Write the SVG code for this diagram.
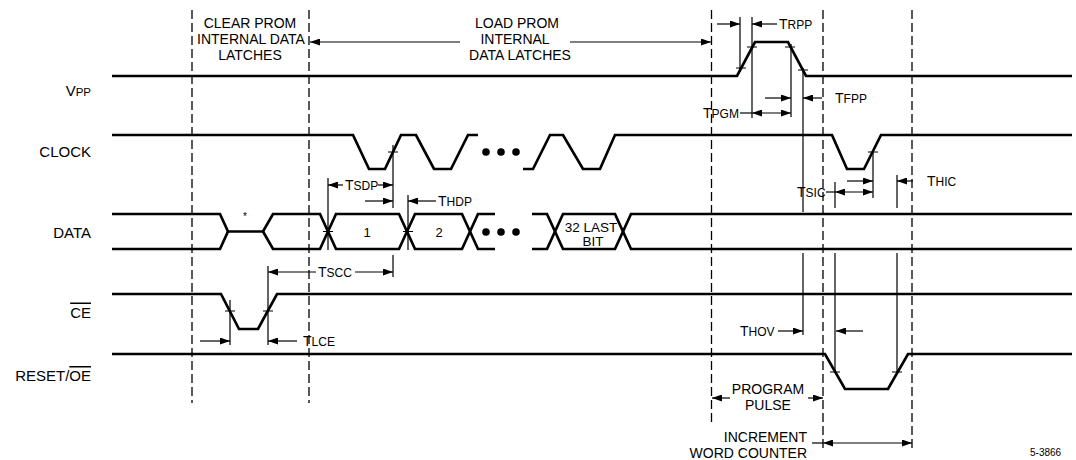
<svg xmlns="http://www.w3.org/2000/svg" width="1076" height="460" viewBox="0 0 1076 460">
<defs>
<marker id="ah" viewBox="0 0 10 7" refX="10" refY="3.5" markerWidth="10" markerHeight="7" orient="auto-start-reverse" markerUnits="userSpaceOnUse"><path d="M0,0 L10,3.5 L0,7 z" fill="#000"/></marker>
</defs>
<style>
text{font-family:"Liberation Sans",Arial,sans-serif;fill:#000}
.sig{fill:none;stroke:#000;stroke-width:2.7}
.dash{fill:none;stroke:#000;stroke-width:1.3;stroke-dasharray:9 4}
.thin{fill:none;stroke:#000;stroke-width:1.2}
.arr{fill:none;stroke:#000;stroke-width:1.2;marker-end:url(#ah)}
.dbl{fill:none;stroke:#000;stroke-width:1.2;marker-end:url(#ah);marker-start:url(#ah)}
.lbl{font-size:15px;text-anchor:end}
.note{font-size:14px;text-anchor:middle}
.big{font-size:14px}
.sm{font-size:12px}
</style>
<rect width="1076" height="460" fill="#fff"/>

<g id="phase-lines">
<line class="dash" x1="192" y1="10" x2="192" y2="403"/>
<line class="dash" x1="309" y1="10" x2="309" y2="403"/>
<line class="dash" x1="711.5" y1="10" x2="711.5" y2="422"/>
<line class="dash" x1="823" y1="10" x2="823" y2="448"/>
<line class="dash" x1="912" y1="10" x2="912" y2="448"/>
</g>

<g id="sig-labels">
<text class="lbl" x="91" y="96"><tspan>V</tspan><tspan font-size="11.5">PP</tspan></text>
<text class="lbl" x="91" y="157">CLOCK</text>
<text class="lbl" x="91" y="238">DATA</text>
<text class="lbl" x="91" y="317.5" style="text-decoration:overline">CE</text>
<text class="lbl" x="91" y="381">RESET/<tspan style="text-decoration:overline">OE</tspan></text>
</g>

<g id="vpp"><path class="sig" d="M112,76 H737 L755,42 H788 L806,76 H1072"/></g>
<g id="clock">
<path class="sig" d="M112,135 H353 L369,169 H385 L401,135 H416 L434,169 H451 L468,135 H478"/>
<path class="sig" d="M523,169 H533 L550,135 H563 L583,169 H600 L615,135 H832 L847,169 H864 L881,135 H1072"/>
<circle cx="486" cy="152" r="3.8"/><circle cx="501" cy="152" r="3.8"/><circle cx="516" cy="152" r="3.8"/>
</g>
<g id="data">
<path class="sig" d="M112,214 H220 L228,231.5 H263 L273,214 H320 L336,249 H399 L415,214 H462 L478,249 H495"/>
<path class="sig" d="M112,249 H220 L228,231.5 M263,231.5 L273,249 H320 L336,214 H399 L415,249 H462 L478,214 H495"/>
<path class="sig" d="M532,214 H547 L563,249 H615 L631,214 H1072"/>
<path class="sig" d="M532,249 H547 L563,214 H615 L631,249 H1072"/>
<circle cx="486" cy="232" r="3.8"/><circle cx="501" cy="232" r="3.8"/><circle cx="516" cy="232" r="3.8"/>
<text x="245" y="220" font-size="10" text-anchor="middle">*</text>
<text x="367" y="237" font-size="13" text-anchor="middle">1</text>
<text x="439" y="237" font-size="13" text-anchor="middle">2</text>
<text x="591" y="232" font-size="13.5" text-anchor="middle">32 LAST</text>
<text x="593" y="246" font-size="13.5" text-anchor="middle">BIT</text>
</g>
<g id="ce"><path class="sig" d="M112,294 H221 L239,329 H258 L277,294 H1072"/></g>
<g id="reset-oe"><path class="sig" d="M112,354 H825 L845,389 H888 L908,354 H1072"/></g>

<g id="phase-notes">
<text class="note" x="250" y="28">CLEAR PROM</text>
<text class="note" x="251" y="44">INTERNAL DATA</text>
<text class="note" x="250" y="60">LATCHES</text>
<text class="note" x="517" y="28">LOAD PROM</text>
<text class="note" x="515" y="44">INTERNAL</text>
<text class="note" x="520" y="60">DATA LATCHES</text>
<text class="note" x="768" y="394">PROGRAM</text>
<text class="note" x="768" y="410">PULSE</text>
<text x="807" y="442" font-size="14" text-anchor="end">INCREMENT</text>
<text x="807" y="458" font-size="14" text-anchor="end">WORD COUNTER</text>
<text x="1030" y="456" font-size="10">5-3866</text>
</g>

<g id="connectors">
<path class="thin" d="M736,68 H746 M747,47 H757 M785,47 H795 M798,70 H808 M388,152 H398 M868,152 H878 M225,311 H235 M263,311 H273 M830,372 H840 M892,372 H902 M323,231.5 H333 M403,231.5 H413"/>
<path class="thin" d="M740,17 V72 M752,17 V118 M791,44 V117 M803,68 V212 M803,253 V335 M393,145 V208 M393,255 V277 M328,178 V250 M408,195 V250 M230,300 V345 M268,266 V345 M873,152 V198 M835,182 V208 M835,253 V373 M897,175 V208 M897,253 V373"/>
<line class="arr" x1="460" y1="42" x2="310" y2="42"/>
<line class="arr" x1="570" y1="42" x2="711" y2="42"/>
<line class="arr" x1="730" y1="398" x2="712" y2="398"/>
<line class="arr" x1="808" y1="398" x2="823" y2="398"/>
<line class="thin" x1="812" y1="443" x2="823" y2="443"/>
<line class="dbl" x1="823" y1="443" x2="912" y2="443"/>
<line class="arr" x1="717" y1="24" x2="740" y2="24"/>
<line class="arr" x1="777" y1="24" x2="752" y2="24"/>
<line class="thin" x1="740" y1="113" x2="752" y2="113"/>
<line class="dbl" x1="752" y1="113" x2="791" y2="113"/>
<line class="arr" x1="765" y1="98" x2="791" y2="98"/>
<line class="arr" x1="822" y1="98" x2="803" y2="98"/>
<line class="arr" x1="343" y1="185" x2="328" y2="185"/>
<line class="arr" x1="378" y1="185" x2="393" y2="185"/>
<line class="arr" x1="365" y1="201" x2="393" y2="201"/>
<line class="arr" x1="436" y1="201" x2="408" y2="201"/>
<line class="arr" x1="316" y1="272" x2="268" y2="272"/>
<line class="arr" x1="355" y1="272" x2="393" y2="272"/>
<line class="arr" x1="200" y1="341" x2="230" y2="341"/>
<line class="arr" x1="297" y1="341" x2="268" y2="341"/>
<line class="arr" x1="847" y1="181" x2="873" y2="181"/>
<line class="thin" x1="826" y1="192" x2="835" y2="192"/>
<line class="dbl" x1="835" y1="192" x2="873" y2="192"/>
<line class="arr" x1="913" y1="181" x2="897" y2="181"/>
<line class="arr" x1="778" y1="331" x2="803" y2="331"/>
<line class="arr" x1="863" y1="331" x2="836" y2="331"/>
</g>

<g id="timing-labels">
<text x="779" y="29"><tspan class="big">T</tspan><tspan class="sm">RPP</tspan></text>
<text x="703" y="118"><tspan class="big">T</tspan><tspan class="sm">PGM</tspan></text>
<text x="835" y="103"><tspan class="big">T</tspan><tspan class="sm">FPP</tspan></text>
<text x="345" y="190"><tspan class="big">T</tspan><tspan class="sm">SDP</tspan></text>
<text x="438" y="206"><tspan class="big">T</tspan><tspan class="sm">HDP</tspan></text>
<text x="318" y="277"><tspan class="big">T</tspan><tspan class="sm">SCC</tspan></text>
<text x="303" y="346"><tspan class="big">T</tspan><tspan class="sm">LCE</tspan></text>
<text x="797" y="197"><tspan class="big">T</tspan><tspan class="sm">SIC</tspan></text>
<text x="927" y="186"><tspan class="big">T</tspan><tspan class="sm">HIC</tspan></text>
<text x="740" y="336"><tspan class="big">T</tspan><tspan class="sm">HOV</tspan></text>
</g>
</svg>
